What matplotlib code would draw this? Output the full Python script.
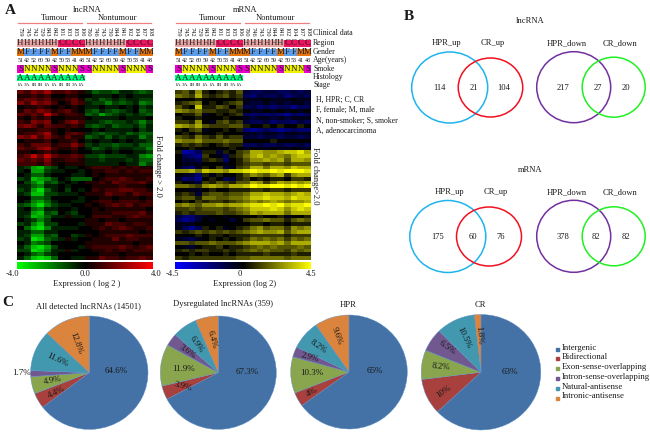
import matplotlib
matplotlib.use('Agg')
import matplotlib.pyplot as plt
from matplotlib.colors import LinearSegmentedColormap, to_rgb
from matplotlib.patches import Ellipse, Rectangle
import numpy as np

plt.rcParams['font.family'] = ['Liberation Serif', 'DejaVu Serif']
W, H = 650, 433
TXT = '#1a1a1a'

# ---- data ----
sample_ids = ['759', '745', '742', '729', '843', '842', '101', '103', '105', '106',
              '760', '746', '743', '730', '844', '841', '102', '104', '107', '108']
region = list('HHHHHHCCCC') * 2
gender = list('MFFFFMFFMM') * 2
ages = [51, 42, 52, 60, 59, 42, 50, 53, 41, 48] * 2
smoke = list('SNNNNSNNNS') * 2
histology = list('AAAAAAAAAA') + [''] * 10
stage = ['IA', '3A', 'IB', 'IB', 'IA', 'IA', 'IB', 'IB', '3A', 'IA']

# heatmap cells are in half log2 units
lnc_up_tumour = [
    [3, 2, 4, 3, 5, 2, 2, 3, 2, 1, -1, -3, -2, -2, -3, -1, -1, -2, -3, -2],
    [1, 1, 2, 1, 2, 0, 0, 1, 1, 0, 0, -1, -1, -1, 0, -1, 0, -1, -1, -1],
    [2, 3, 3, 2, 3, 1, 1, 2, 3, 1, -2, -1, -3, -2, -1, -2, -1, -1, -2, -2],
    [4, 2, 5, 3, 4, 2, 0, 1, 3, 2, -1, -2, -2, -4, -2, -3, -2, -1, -4, -3],
    [0, 1, 1, 2, 1, 0, 1, 0, 1, 0, -1, -1, 0, -1, -1, 0, -1, 0, -2, -1],
    [1, 3, 2, 4, 3, 1, 2, 3, 1, 0, -2, -3, -1, -2, -3, -2, -1, 0, -3, -2],
    [3, 2, 3, 2, 6, 3, 1, 2, 2, 1, -3, -2, -5, -3, -2, -1, -2, -1, -2, -3],
    [1, 0, 2, 1, 2, 0, 0, 1, 1, 1, 0, -1, -1, -1, -1, 0, -1, -1, -1, 0],
    [2, 1, 4, 3, 4, 0, 1, 3, 4, 2, -1, -1, -2, -3, -2, -2, -1, -2, -4, -2],
    [3, 4, 3, 1, 3, 2, 2, 1, 2, 1, -2, -3, -2, -1, -3, -2, -2, -1, -3, -1],
    [1, 1, 1, 2, 2, 1, 0, 1, 0, 0, 0, -1, 0, -1, -1, -1, -1, 0, -2, -1],
    [1, 2, 2, 3, 5, 1, 0, 2, 3, 2, -1, -2, -3, -2, -2, -1, -3, -2, -3, -3],
    [4, 3, 5, 2, 4, 2, 1, 3, 1, 1, -3, -2, -1, -3, -1, -2, -1, -1, -4, -2],
    [0, 1, 1, 1, 2, 0, 1, 1, 2, 0, -1, 0, -1, -1, 0, -1, 0, -1, -1, -2],
    [2, 1, 3, 3, 3, 1, 2, 2, 4, 2, -2, -1, -2, -2, -3, -2, -2, -1, -3, -3],
    [3, 2, 2, 4, 5, 2, 1, 1, 2, 0, -1, -3, -2, -1, -2, -1, -1, -2, -2, -4],
    [1, 1, 0, 1, 2, 1, 0, 0, 1, 0, 0, -1, -1, 0, -1, 0, 0, -1, -1, -2],
    [2, 3, 6, 3, 6, 3, 2, 2, 3, 2, -2, -2, -3, -2, -2, -2, -1, -1, -4, -5],
    [3, 2, 3, 2, 4, 1, 1, 2, 2, 1, -1, -1, -2, -1, -1, -1, -2, -1, -3, -3],
    [2, 2, 2, 1, 3, 1, 0, 1, 1, 1, -1, -1, -1, -1, -1, 0, -1, -1, -4, -2],
]
lnc_down_tumour = [
    [-1, -2, -5, -6, -3, -2, 0, -1, -1, 0, 1, 2, 2, 2, 1, 2, 1, 2, 1, 1],
    [-1, 0, -5, -5, -2, -1, -1, 0, 0, -1, 0, 1, 1, 2, 2, 1, 2, 1, 2, 2],
    [0, -1, -3, -3, -1, 0, 0, 0, -1, -1, 0, 1, 0, 1, 1, 1, 1, 1, 1, 1],
    [-2, -1, -6, -5, -4, -2, 0, -1, -3, -3, -3, 0, 1, 2, 2, 3, 2, 1, 1, 2],
    [0, -2, -4, -6, -2, -3, -1, 0, -1, 0, 1, 1, 2, 1, 3, 2, 2, 2, 3, 1],
    [-1, -1, -3, -4, -1, -1, 0, -1, 0, 0, 0, 1, 1, 1, 1, 2, 1, 1, 1, 0],
    [-2, -1, -5, -7, -3, -1, 0, -2, 0, -1, 0, 2, 1, 2, 2, 3, 3, 2, 2, 1],
    [-1, -2, -6, -6, -2, -2, -1, -1, -1, 0, 1, 1, 1, 3, 2, 2, 1, 3, 2, 2],
    [0, 0, -3, -3, -2, 0, 0, 0, 0, -1, 0, 0, 1, 1, 0, 1, 1, 1, 0, 1],
    [0, -1, -4, -5, -3, -1, 0, 0, -1, -1, 0, 1, 2, 2, 1, 2, 2, 2, 1, 2],
    [-2, -3, -5, -7, -4, -2, -1, -1, 0, 0, 1, 0, 1, 2, 3, 2, 3, 1, 2, 2],
    [-1, 0, -3, -4, -1, -1, 0, 0, -1, 0, 0, 1, 0, 1, 1, 1, 1, 1, 1, 0],
    [-1, -1, -5, -6, -2, -3, 0, -1, -2, 0, 0, 1, 1, 1, 2, 2, 2, 2, 3, 1],
    [-1, -2, -6, -5, -3, -1, -1, 1, -1, -1, 0, 2, 2, 2, 1, 1, 2, 3, 2, 2],
    [0, -1, -2, -4, -2, 0, 0, 0, 0, 0, 1, 1, 0, 1, 1, 0, 1, 1, 1, 1],
    [-2, -1, -4, -6, -2, -2, 0, 0, 0, -1, 1, 1, 1, 3, 2, 2, 1, 2, 2, 1],
    [0, -3, -6, -7, -4, -1, -1, -1, -1, 0, 0, 1, 2, 1, 2, 3, 2, 1, 1, 2],
    [-1, -1, -3, -3, -1, -1, 0, 0, 0, 0, 0, 0, 1, 1, 1, 1, 1, 1, 0, 1],
    [-1, -2, -5, -5, -2, -3, 0, 0, -2, -1, 1, 0, 1, 2, 2, 2, 3, 2, 2, 2],
    [-2, -1, -7, -6, -3, -2, -1, 1, -1, 0, 0, 1, 1, 1, 3, 1, 2, 2, 1, 1],
    [0, -1, -4, -3, -2, 0, 0, 0, 0, 0, 1, 1, 1, 1, 1, 1, 1, 0, 1, 1],
    [-1, -3, -6, -7, -5, -2, 0, 0, 0, -1, 1, 2, 2, 2, 2, 3, 2, 1, 2, 3],
    [-2, -2, -7, -6, -4, -1, -1, 1, -1, 0, 0, 1, 1, 2, 1, 2, 1, 2, 2, 2],
    [0, -1, -3, -4, -2, -1, 0, 0, 0, 0, 0, 0, 1, 1, 1, 0, 1, 1, 1, 1],
    [-1, -3, -6, -7, -6, -3, 0, 0, -1, -1, 1, 1, 3, 2, 2, 1, 2, 2, 3, 2],
]
mrna_up_tumour = [
    [2, 3, 1, 5, 1, 0, 1, 2, 1, 3, -2, -3, -3, -2, -2, -3, -3, -2, -3, -2],
    [4, 3, 2, 6, 2, 1, 2, 3, 1, 2, -3, -4, -2, -3, -3, -2, -4, -3, -2, -3],
    [0, 0, 0, 1, 0, 0, 0, 0, 0, 1, -1, -1, -1, 0, -1, -1, -1, 0, -1, -1],
    [1, 2, 3, 4, 0, 1, 0, 1, 2, 3, -1, -2, -2, -1, -2, -1, -2, -1, -1, -2],
    [3, 1, 0, 7, 1, 1, 3, 2, 0, 2, -3, -2, -4, -3, -4, -3, -3, -5, -3, -3],
    [5, 4, 3, 4, 2, 2, 1, 1, 2, 1, 0, -1, -1, 0, -1, 0, -1, 0, -1, 0],
    [0, 1, 1, 3, -1, 0, 1, 0, 1, 2, -3, -4, -3, -4, -3, -4, -5, -3, -4, -3],
    [1, 0, 0, 1, 0, 0, 0, 1, 0, 0, -1, -2, -1, -1, -2, -1, -2, -1, -1, -1],
    [2, 2, 1, 5, 0, -1, 2, 3, 1, 2, -2, -3, -3, -2, -4, -3, -3, -4, -2, -3],
    [6, 5, 4, 6, 3, 2, 2, 2, 3, 3, 1, 0, 0, 1, 0, 1, 0, 0, 1, 0],
    [1, 0, 2, 3, -1, 0, 0, 1, 0, 1, -4, -5, -4, -3, -4, -5, -4, -3, -4, -4],
    [0, 1, 0, 1, 0, 0, 1, 0, 0, 0, -1, -1, -2, -1, -1, -2, -1, -1, -1, -1],
    [3, 2, 1, 4, 2, 1, 3, 1, 2, 2, -2, -2, -3, -2, -2, -3, -2, -2, -3, -2],
    [5, 4, 4, 5, 3, 3, 3, 4, 3, 3, 0, 0, 0, 0, 1, 0, 0, 0, 0, 0],
    [1, 2, 1, 2, 1, 0, 1, 2, 1, 1, -3, -3, -2, -3, -3, -2, -3, -3, -2, -3],
    [0, 0, 1, 0, 0, 0, 0, 0, 1, 0, -1, 0, -1, -1, 0, -1, -1, 0, -1, -1],
]
mrna_down_tumour = [
    [1, -6, -5, -3, 1, 1, -2, 1, 0, 2, 3, 6, 6, 5, 5, 6, 7, 7, 8, 6],
    [0, -3, -4, -5, 2, 0, -1, -3, 1, 2, 4, 6, 7, 5, 6, 5, 4, 6, 7, 7],
    [0, -2, -2, -3, 1, 2, 1, -4, 0, 1, 3, 5, 5, 6, 5, 6, 3, 6, 6, 5],
    [0, -1, -1, -1, 0, 0, 0, -1, 0, 1, 2, 3, 3, 2, 3, 3, 2, 3, 3, 3],
    [-1, -3, -4, -1, 1, 0, 2, -2, -1, 2, 3, 6, 6, 4, 6, 6, 5, 7, 6, 6],
    [5, 5, 6, 4, 7, 6, 6, 5, 7, 7, 8, 9, 8, 8, 9, 8, 9, 9, 9, 8],
    [0, -1, -2, -4, 1, -1, 1, 0, 0, 1, 3, 5, 4, 3, 5, 6, 2, 5, 6, 6],
    [-1, -4, -3, -5, 0, 1, 0, -3, -2, 1, 2, 0, 1, 0, 1, 1, 0, 2, 2, 1],
    [1, 0, -1, -2, 2, 1, 3, 2, 1, 3, 3, 6, 5, 2, 4, 6, 5, 6, 5, 6],
    [4, 4, 3, 2, 5, 6, 5, 4, 6, 6, 7, 9, 8, 8, 9, 9, 8, 9, 8, 9],
    [0, 0, -1, -1, 0, 1, 0, 0, 1, 1, 1, 2, 2, 1, 2, 2, 1, 2, 2, 2],
    [1, 2, 1, -2, 2, 3, 3, 2, 3, 3, 4, 6, 6, 7, 6, 6, 5, 6, 7, 6],
    [2, 3, 3, 1, 4, 4, 3, 3, 4, 4, 5, 7, 7, 8, 7, 7, 6, 8, 7, 7],
    [0, 1, 0, 2, 1, 2, 2, 1, 2, 3, 4, 5, 4, 5, 6, 5, 4, 5, 5, 6],
    [4, 5, 4, 3, 5, 5, 6, 5, 6, 6, 7, 8, 8, 9, 8, 9, 7, 8, 8, 9],
    [2, 2, 3, 2, 3, 3, 3, 2, 3, 4, 5, 7, 7, 7, 8, 7, 5, 7, 8, 7],
    [1, 2, 1, 2, 2, 2, 3, 2, 2, 3, 4, 6, 5, 6, 6, 6, 4, 6, 6, 6],
    [-2, -4, -4, -2, -1, 0, 0, -1, 0, 0, 0, 0, 1, 0, 0, 1, -1, 0, 0, 1],
    [-3, -5, -4, -2, 0, -1, 0, 0, -2, 0, 2, 3, 3, 4, 3, 3, 1, 3, 4, 3],
    [-1, -1, -1, 0, 0, 0, 0, 0, 0, 0, 0, 1, 1, 0, 1, 1, 0, 1, 1, 1],
    [-1, -3, -5, -3, 1, 0, 1, -1, 0, 1, 2, 4, 5, 3, 4, 4, 2, 5, 4, 5],
    [2, 1, 2, 3, 2, 3, 2, 3, 2, 3, 4, 5, 6, 5, 5, 6, 3, 5, 6, 6],
    [0, 0, 0, 1, 0, 1, 1, 0, 1, 1, 1, 2, 2, 2, 2, 2, 1, 2, 2, 2],
    [-1, -2, -3, -1, 0, 1, 0, 1, 0, 1, 2, 4, 3, 4, 3, 4, 2, 4, 3, 4],
    [3, 3, 2, 3, 3, 4, 3, 3, 3, 4, 5, 6, 6, 6, 5, 6, 4, 6, 6, 6],
    [0, -1, -2, 0, 1, 1, 2, 0, 1, 1, 2, 3, 4, 3, 4, 3, 3, 3, 4, 3],
    [1, 2, 1, 2, 2, 1, 1, 2, 1, 2, 3, 4, 3, 4, 3, 3, 2, 4, 3, 4],
    [0, 0, 1, 0, 1, 0, 0, 1, 0, 1, 1, 1, 1, 2, 1, 1, 1, 2, 1, 1],
    [2, 1, 2, 2, 2, 2, 2, 2, 2, 3, 3, 4, 4, 4, 4, 4, 3, 4, 4, 4],
]

venn_lnc_up = [114, 21, 104]
venn_lnc_down = [217, 27, 20]
venn_mrna_up = [175, 60, 76]
venn_mrna_down = [378, 82, 82]

pie_classes = ['Intergenic', 'Bidirectional', 'Exon-sense-overlapping',
               'Intron-sense-overlapping', 'Natural-antisense', 'Intronic-antisense']
pie_all = [64.6, 4.4, 4.9, 1.7, 11.6, 12.8]
pie_dys = [67.3, 3.9, 11.9, 3.6, 6.9, 6.4]
pie_hpr = [65, 4, 10.3, 2.9, 8.2, 9.6]
pie_cr = [63, 10, 8.2, 6.5, 10.5, 1.8]

# ---- styles ----
pie_colors = ['#4472A6', '#A8403D', '#89A54E', '#71588F', '#4198AF', '#DB843D']
track_colors = {'H': '#E8A3A3', 'C': '#EE1560', 'M': '#E8760F', 'F': '#5C9CE8',
                'S': '#E600C8', 'N': '#F0F000', 'A': '#00FF80', '': '#FFFFFF'}
green_red = LinearSegmentedColormap.from_list('gr', ['#00FF00', '#000000', '#FF0000'])
blue_yellow = LinearSegmentedColormap.from_list('by', ['#0000FF', '#000000', '#FFFF00'])
FS = 6.1


def px_axes(x0, y0, x1, y1):
    # axes box given in image pixels, y going down
    ax = fig.add_axes([x0 / W, 1 - y1 / H, (x1 - x0) / W, (y1 - y0) / H])
    return ax


def label(x, y, s, size=FS, **kw):
    kw.setdefault('ha', 'center')
    kw.setdefault('va', 'center')
    bg.text(x, y, s, fontsize=size, color=TXT, **kw)


def draw_track(x0, x1, y0, y1, letters, size=6.4):
    ax = px_axes(x0, y0, x1, y1)
    ax.imshow([[to_rgb(track_colors[c]) for c in letters]], aspect='auto')
    for i, c in enumerate(letters):
        ax.text(i, 0, c, ha='center', va='center', fontsize=size, color=TXT)
    ax.axis('off')


def draw_panel(x0, x1, heat_top, heat_bottom, vlim, cmap, title, ticks, xlabel):
    cx = (x0 + x1) / 2
    cw = (x1 - x0) / 20
    label(cx + 2, 9.5, title)
    label(x0 + 37, 18, 'Tumour')
    label(x0 + 100, 18, 'Nontumour')
    bg.plot([x0 + 1, x0 + 65], [23, 23], color='#F08080', lw=0.9)
    bg.plot([x0 + 70, x0 + 134], [23, 23], color='#F08080', lw=0.9)
    for i, sid in enumerate(sample_ids):
        label(x0 + (i + 0.5) * cw, 31.5, sid, 4.6, rotation=-90)
    draw_track(x0, x1, 39.5, 47, region)
    draw_track(x0, x1, 49, 56, gender)
    for i, a in enumerate(ages):
        label(x0 + (i + 0.5) * cw, 60.5, str(a), 4.3)
    draw_track(x0, x1, 65, 73, smoke)
    draw_track(x0, x1, 74.5, 81, histology)
    for i, s in enumerate(stage):
        label(x0 + (i + 0.5) * cw, 85.5, s, 3.8)

    ax = px_axes(x0, 90, x1, 259.5)
    ax.imshow(np.array(heat_top + heat_bottom), cmap=cmap, vmin=-vlim, vmax=vlim,
              aspect='auto', interpolation='nearest')
    ax.axis('off')

    cb = px_axes(x0, 262, x1, 269)
    cb.imshow(np.linspace(-1, 1, 256)[None, :], cmap=cmap, aspect='auto')
    cb.axis('off')
    for tx, s in ticks:
        label(tx, 274.5, s)
    label(cx + 2, 284, xlabel)


def draw_venn(xl, xr, yc, left_size, right_size, colors, names, name_x, name_y, values, value_x):
    for x, (w, h), c in zip((xl, xr), (left_size, right_size), colors):
        bg.add_patch(Ellipse((x, yc), w, h, fill=False, edgecolor=c, lw=1.1))
    for x, s in zip(name_x, names):
        label(x, name_y, s)
    for x, v in zip(value_x, values):
        label(x, yc + 0.5, str(v))


def draw_pie(box, values, texts, offsets, rotations, title, title_xy):
    ax = px_axes(*box)
    ax.pie(values, colors=pie_colors, startangle=90, counterclock=False,
           wedgeprops={'edgecolor': '#5B8FC9', 'linewidth': 0.3})
    ax.set_xlim(-1, 1)
    ax.set_ylim(-1, 1)
    ax.set_aspect('auto')
    for s, (dx, dy), r in zip(texts, offsets, rotations):
        ax.text(dx, dy, s, ha='center', va='center', fontsize=6.5, color=TXT, rotation=r)
    label(title_xy[0], title_xy[1], title)


fig = plt.figure(figsize=(6.5, 4.33), dpi=100)
bg = fig.add_axes([0, 0, 1, 1])
bg.set_xlim(0, W)
bg.set_ylim(H, 0)
bg.axis('off')

# ---- panel A ----
label(10, 10, 'A', 11, fontweight='bold')
draw_panel(17, 153, lnc_up_tumour, lnc_down_tumour, 8, green_red, 'lncRNA',
           [(13, '-4.0'), (85, '0.0'), (156, '4.0')], 'Expression ( log 2 )')
draw_panel(175, 311, mrna_up_tumour, mrna_down_tumour, 9, blue_yellow, 'mRNA',
           [(172, '-4.5'), (240, '0'), (311, '4.5')], 'Expression (log 2)')
label(158.5, 166, 'Fold change > 2.0', FS, rotation=-90)
label(315, 176, 'Fold change>2.0', FS, rotation=-90)
for y, s in zip((33, 43, 52, 59.5, 69, 77, 85),
                ('Clinical data', 'Region', 'Gender', 'Age(years)', 'Smoke', 'Histology', 'Stage')):
    label(313, y, s, 5.6, ha='left')
for y, s in zip((100, 110, 120.5, 131),
                ('H, HPR; C, CR', 'F, female; M, male', 'N, non-smoker; S, smoker', 'A, adenocarcinoma')):
    label(316, y, s, 5.6, ha='left')

# ---- panel B ----
label(409, 17, 'B', 11, fontweight='bold')
label(530, 21, 'lncRNA')
label(530, 170.5, 'mRNA')
blue_red = ('#1EB4EE', '#F01020')
purple_green = ('#7030A0', '#20F020')
draw_venn(449.7, 490.5, 87.5, (76, 71), (64.5, 59), blue_red, ('HPR_up', 'CR_up'), (447, 493), 43,
          venn_lnc_up, (439.5, 474, 504))
draw_venn(573.7, 613.7, 87.2, (74, 71), (63, 60), purple_green, ('HPR_down', 'CR_down'), (567, 620), 43,
          venn_lnc_down, (563.5, 597.5, 625.5))
draw_venn(447.8, 489, 236.5, (76, 72), (65, 59), blue_red, ('HPR_up', 'CR_up'), (449.5, 496), 192,
          venn_mrna_up, (437.5, 472.5, 501))
draw_venn(573.7, 613.7, 236.3, (74, 72), (63, 59), purple_green, ('HPR_down', 'CR_down'), (567, 620), 192,
          venn_mrna_down, (563, 596, 626))

# ---- panel C ----
label(8, 302, 'C', 11, fontweight='bold')
draw_pie((30.6, 316, 148, 429.4), pie_all,
         ['64.6%', '4.4%', '4.9%', '1.7%', '11.6%', '12.8%'],
         [(.45, .03), (-.56, -.34), (-.62, -.13), (-1.15, -.01), (-.55, .22), (-.22, .52)],
         [0, 25, 10, 0, -25, -70], 'All detected lncRNAs (14501)', (88, 306))
draw_pie((160.3, 316, 276.3, 429.4), pie_dys,
         ['67.3%', '3.9%', '11.9%', '3.6%', '6.9%', '6.4%'],
         [(.5, .02), (-.61, -.25), (-.60, .06), (-.53, .37), (-.37, .5), (-.11, .58)],
         [0, -15, 0, -35, -55, -75], 'Dysregulated lncRNAs (359)', (223, 304.5))
draw_pie((290.7, 315, 407.3, 429), pie_hpr,
         ['65%', '4%', '10.3%', '2.9%', '8.2%', '9.6%'],
         [(.45, .01), (-.64, -.36), (-.64, -.01), (-.67, .25), (-.52, .45), (-.21, .64)],
         [0, 30, 0, -15, -35, -70], 'HPR', (348, 305))
draw_pie((421.2, 314.5, 540.8, 430), pie_cr,
         ['63%', '10%', '8.2%', '6.5%', '10.5%', '1.8%'],
         [(.48, 0), (-.63, -.34), (-.67, .09), (-.56, .42), (-.29, .6), (-.03, .65)],
         [0, 35, -5, -35, -65, -85], 'CR', (480, 305))

for i, (name, c) in enumerate(zip(pie_classes, pie_colors)):
    y = 348 + i * 9.8
    bg.add_patch(Rectangle((556.3, y - 0.5), 3, 3, color=c))
    label(561.5, y - 0.5, name, 6.3, ha='left')

fig.savefig('out.png', dpi=100)
